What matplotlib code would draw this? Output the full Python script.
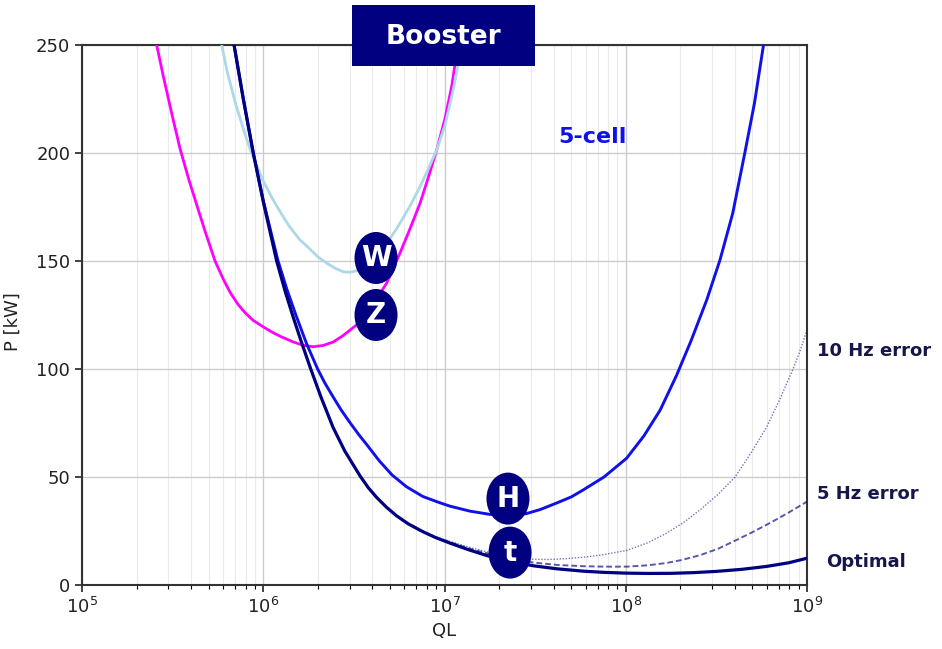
import matplotlib
matplotlib.use("Agg")
import numpy as np
import matplotlib.pyplot as plt
from matplotlib.patches import Ellipse, Rectangle

# ── data: log10(QL) and power in kW ──
z_lq = [5.412, 5.45, 5.5, 5.541, 5.59, 5.633, 5.68, 5.734, 5.78, 5.817, 5.86, 5.9,
        5.945, 6.0, 6.05, 6.092, 6.166, 6.22, 6.276, 6.33, 6.386, 6.441, 6.516,
        6.6, 6.681, 6.754, 6.81, 6.865, 6.91, 6.957, 7.003, 7.04, 7.074]
z_p = [250, 235, 216.5, 202, 187.5, 176, 163.5, 150, 141.5, 135.5, 130, 126,
       122.5, 119.5, 117, 115.2, 112.5, 111, 110.3, 110.9, 112.5, 115.5, 120.5,
       129, 139.8, 153.6, 165, 176.7, 188.5, 201.4, 216, 231, 250]

w_lq = [5.771, 5.8, 5.85, 5.9, 5.927, 5.96, 6.0, 6.05, 6.092, 6.14, 6.2, 6.258,
        6.3, 6.35, 6.4, 6.441, 6.48, 6.516, 6.56, 6.6, 6.65, 6.7, 6.736, 6.77,
        6.81, 6.865, 6.91, 6.957, 7.003, 7.05, 7.095]
w_p = [250, 238, 222, 208.5, 202, 195, 187, 179, 173, 166.5, 160, 155.5,
       152, 149, 146.5, 145, 144.8, 145.5, 147.5, 150.5, 155, 160.5, 165, 169.8,
       175.5, 184.4, 192.5, 201.4, 213, 230, 250]

h_lq = [5.839, 5.89, 5.945, 6.0, 6.08, 6.13, 6.18, 6.24, 6.3, 6.34, 6.386, 6.43,
        6.48, 6.53, 6.571, 6.64, 6.71, 6.79, 6.88, 6.96, 7.03, 7.14, 7.25, 7.35,
        7.45, 7.53, 7.62, 7.7, 7.765, 7.88, 8.005, 8.1, 8.19, 8.28, 8.36, 8.447,
        8.52, 8.59, 8.658, 8.71, 8.76]
h_p = [250, 225, 200, 178, 150.5, 137, 125, 111.5, 100, 93.5, 87, 81,
       75, 69.3, 65, 57.5, 51, 45.5, 41, 38.5, 36.5, 34.2, 32.7, 32.3,
       33, 35, 38, 40.8, 44, 50, 58.7, 69, 81, 97, 113, 132,
       150.5, 172, 200.5, 223, 250]

opt_lq = [5.839, 5.89, 5.945, 6.0, 6.074, 6.12, 6.166, 6.21, 6.262, 6.32, 6.385,
          6.45, 6.534, 6.58, 6.626, 6.68, 6.736, 6.8, 6.88, 6.95, 7.03, 7.13, 7.25,
          7.37, 7.49, 7.62, 7.765, 7.88, 8.0, 8.12, 8.25, 8.38, 8.5, 8.64, 8.777,
          8.9, 9.0]
opt_p = [250, 225, 200, 177.5, 150, 136.2, 123.8, 112.6, 100, 86.7, 73,
         62, 50.5, 45, 40.5, 36, 32, 28.3, 24.7, 22, 19.4, 16.4, 13.2,
         10.8, 8.9, 7.5, 6.4, 5.85, 5.5, 5.35, 5.4, 5.75, 6.3, 7.25, 8.6,
         10.3, 12.4]

e10_lq = [6.736, 6.8, 6.88, 6.95, 7.03, 7.13, 7.25, 7.37, 7.47, 7.57, 7.674, 7.77,
          7.858, 8.005, 8.12, 8.226, 8.32, 8.41, 8.51, 8.603, 8.69, 8.777, 8.85,
          8.923, 8.96, 9.0]
e10_p = [32, 28.5, 24.9, 22.3, 20.2, 17.6, 15, 13, 12, 11.8, 12.2, 12.9,
         13.8, 16, 19.5, 24, 29, 34.8, 42, 50, 61, 73, 86,
         100, 108, 118]

e5_lq = [6.736, 6.8, 6.88, 6.95, 7.03, 7.13, 7.25, 7.37, 7.49, 7.62, 7.765, 7.88,
         8.005, 8.12, 8.226, 8.31, 8.41, 8.51, 8.61, 8.7, 8.8, 8.9, 9.0]
e5_p = [32, 28.5, 24.8, 22.1, 19.8, 17, 14.3, 12.1, 10.4, 9.3, 8.7, 8.5,
        8.5, 9.1, 10.2, 11.6, 13.8, 16.8, 20.8, 24.5, 28.9, 33.6, 38.6]

# badge label positions (QL, P)
badges = [("W", 4.19e6, 151.4), ("Z", 4.19e6, 125), ("H", 2.24e7, 40), ("t", 2.30e7, 15)]

NAVY = "#000080"
TXT = "#16164a"


def ql(lq):
    return 10 ** np.asarray(lq)


fig = plt.figure(figsize=(9.42, 6.49), dpi=100)
ax = fig.add_axes([82/942, 1-585/649, 725/942, 540/649])

ax.plot(ql(z_lq), z_p, color="#ff00ff", lw=2.0, zorder=3)
ax.plot(ql(w_lq), w_p, color="#add8e6", lw=2.0, zorder=3)
ax.plot(ql(e10_lq), e10_p, color=NAVY, lw=1.0, ls=(0, (1, 1.2)), alpha=0.55, zorder=3)
ax.plot(ql(e5_lq), e5_p, color=NAVY, lw=1.4, ls=(0, (3, 1.5)), alpha=0.65, zorder=3)
ax.plot(ql(h_lq), h_p, color="#1010e8", lw=2.1, zorder=4)
ax.plot(ql(opt_lq), opt_p, color=NAVY, lw=2.3, zorder=4)

ax.set_xscale("log")
ax.set_xlim(1e5, 1e9)
ax.set_ylim(0, 250)
ax.set_yticks(range(0, 251, 50))
ax.grid(which="major", color="#cccccc", lw=1.0)
ax.grid(which="minor", axis="x", color="#eaeaea", lw=0.8)
ax.set_axisbelow(True)
ax.tick_params(labelsize=13, direction="out", length=5, width=1.2, colors="#222222")
ax.tick_params(which="minor", length=3, width=0.8)
for sp in ax.spines.values():
    sp.set_linewidth(1.5)
    sp.set_color("#333333")
ax.set_xlabel("QL", fontsize=13, labelpad=4, color="#222222")

fig.text(22/942, 1-322/649, "P [kW]", rotation=90, ha="right", va="center",
         fontsize=13, color="#222222")

# badges
for letter, q, p in badges:
    cx, cy = ax.transAxes.inverted().transform(ax.transData.transform((q, p)))
    ax.add_patch(Ellipse((cx, cy), 43/725, 52/540, transform=ax.transAxes,
                         facecolor=NAVY, edgecolor="none", zorder=6))
    ax.text(cx, cy, letter, transform=ax.transAxes, ha="center", va="center",
            color="white", fontsize=20, fontweight="bold", zorder=7)

# title box
fig.add_artist(Rectangle((352/942, 1-66/649), 183/942, 61/649, transform=fig.transFigure,
                         facecolor=NAVY, edgecolor="none", zorder=5))
fig.text(443.5/942, 1-37/649, "Booster", ha="center", va="center", color="white",
         fontsize=19, fontweight="bold", zorder=6)

fig.text(592/942, 1-137/649, "5-cell", ha="center", va="center", color="#1010e8",
         fontsize=16, fontweight="bold")
fig.text(817/942, 1-351/649, "10 Hz error", ha="left", va="center", color=TXT,
         fontsize=13, fontweight="bold")
fig.text(817/942, 1-494/649, "5 Hz error", ha="left", va="center", color=TXT,
         fontsize=13, fontweight="bold")
fig.text(826/942, 1-562/649, "Optimal", ha="left", va="center", color=TXT,
         fontsize=13, fontweight="bold")

fig.savefig("out.png", dpi=100)
